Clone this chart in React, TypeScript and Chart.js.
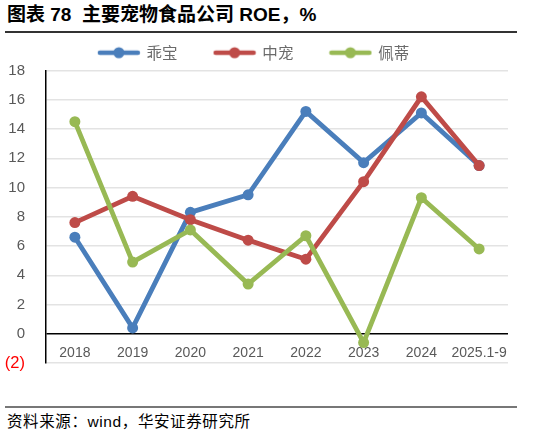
import React, { useEffect, useRef } from "react";
import { Chart, registerables } from "chart.js";

Chart.register(...registerables);

const categories = ["2018", "2019", "2020", "2021", "2022", "2023", "2024", "2025.1-9"];
const guaibao = [6.6, 0.4, 8.3, 9.5, 15.2, 11.7, 15.1, 11.5];
const zhongchong = [7.6, 9.4, 7.8, 6.4, 5.1, 10.4, 16.2, 11.5];
const peidi = [14.5, 4.9, 7.1, 3.4, 6.7, -0.6, 9.3, 5.8];
const seriesNames = ["乖宝", "中宠", "佩蒂"];
const yMin = -2;
const yMax = 18;
const yStep = 2;

const colors = ["#4A7EBB", "#BE4B48", "#98B954"];

function legendImage(color: string): HTMLCanvasElement {
  const c = document.createElement("canvas");
  c.width = 44;
  c.height = 14;
  const ctx = c.getContext("2d")!;
  ctx.strokeStyle = color;
  ctx.lineWidth = 4.5;
  ctx.lineCap = "round";
  ctx.beginPath();
  ctx.moveTo(3, 7);
  ctx.lineTo(41, 7);
  ctx.stroke();
  ctx.fillStyle = color;
  ctx.beginPath();
  ctx.arc(22, 7, 5.5, 0, Math.PI * 2);
  ctx.fill();
  return c;
}

export default function App() {
  const ref = useRef<HTMLCanvasElement>(null);

  useEffect(() => {
    if (!ref.current) return;
    const imgs = colors.map(legendImage);
    const values = [guaibao, zhongchong, peidi];
    const chart = new Chart(ref.current, {
      type: "line",
      data: {
        labels: categories,
        datasets: values.map((d, i) => ({
          label: seriesNames[i],
          data: d,
          borderColor: colors[i],
          backgroundColor: colors[i],
          borderWidth: 4.8,
          pointRadius: 5.5,
          pointBackgroundColor: colors[i],
          pointBorderWidth: 0,
          tension: 0,
          order: 3 - i,
        })),
      },
      options: {
        animation: false,
        responsive: false,
        maintainAspectRatio: false,
        layout: { padding: { top: 8, left: 0, right: 33, bottom: 37 } },
        plugins: {
          tooltip: { enabled: false },
          legend: {
            position: "top",
            labels: {
              usePointStyle: true,
              pointStyleWidth: 40,
              padding: 37,
              color: "#6B6B6B",
              font: { family: "'Noto Sans CJK SC'", size: 15.5 },
              generateLabels: (ch: any) =>
                ch.data.datasets.map((ds: any, i: number) => ({
                  text: ds.label,
                  pointStyle: imgs[i],
                  fillStyle: colors[i],
                  strokeStyle: colors[i],
                  lineWidth: 0,
                  hidden: false,
                  datasetIndex: i,
                  fontColor: "#6B6B6B",
                })),
            },
          },
        },
        scales: {
          x: {
            type: "category",
            offset: true,
            grid: { display: false, drawTicks: false },
            border: { display: false },
            afterFit: (s: any) => {
              s.height = 0;
            },
            ticks: {
              mirror: true,
              padding: 1,
              color: "#595959",
              maxRotation: 0,
              autoSkip: false,
              font: { family: "'Liberation Sans'", size: 14 },
            },
          },
          y: {
            min: yMin,
            max: yMax,
            afterFit: (s: any) => {
              s.width = 46;
            },
            ticks: {
              stepSize: yStep,
              padding: 21,
              color: (c: any) => (c.tick && c.tick.value < 0 ? "#FF0000" : "#595959"),
              font: (c: any) => ({
                family: "'Liberation Sans'",
                size: c.tick && c.tick.value < 0 ? 16.5 : 15,
              }),
              callback: (v: any) => (Number(v) < 0 ? `(${Math.abs(Number(v))})` : String(v)),
            },
            grid: {
              drawTicks: false,
              color: (c: any) => (c.tick && c.tick.value === 0 ? "#000000" : "#E3E3E3"),
              lineWidth: 1.5,
            },
            border: { color: "#000000", width: 1.5 },
          },
        },
      },
    });
    return () => chart.destroy();
  }, []);

  return (
    <div style={{ position: "absolute", left: 0, top: 0, width: 541, height: 437, background: "#fff" }}>
      <div
        style={{
          position: "absolute",
          left: 7,
          top: 4,
          fontFamily: "'Liberation Sans', 'Noto Sans CJK SC', sans-serif",
          fontWeight: "bold",
          fontSize: 19,
          lineHeight: "22px",
          color: "#000",
          whiteSpace: "pre",
        }}
      >
        图表 78  主要宠物食品公司 ROE，%
      </div>
      <div style={{ position: "absolute", left: 5, top: 31, width: 512, height: 1.5, background: "#333" }} />
      <canvas ref={ref} width={541} height={400} style={{ position: "absolute", left: 0, top: 0 }} />
      <div style={{ position: "absolute", left: 5, top: 406, width: 512, height: 1.5, background: "#777" }} />
      <div
        style={{
          position: "absolute",
          left: 7,
          top: 412,
          fontFamily: "'Liberation Sans', 'Noto Sans CJK SC', sans-serif",
          fontSize: 15.5,
          lineHeight: "20px",
          letterSpacing: 0.6,
          color: "#000",
          whiteSpace: "pre",
        }}
      >
        资料来源：wind，华安证券研究所
      </div>
    </div>
  );
}
